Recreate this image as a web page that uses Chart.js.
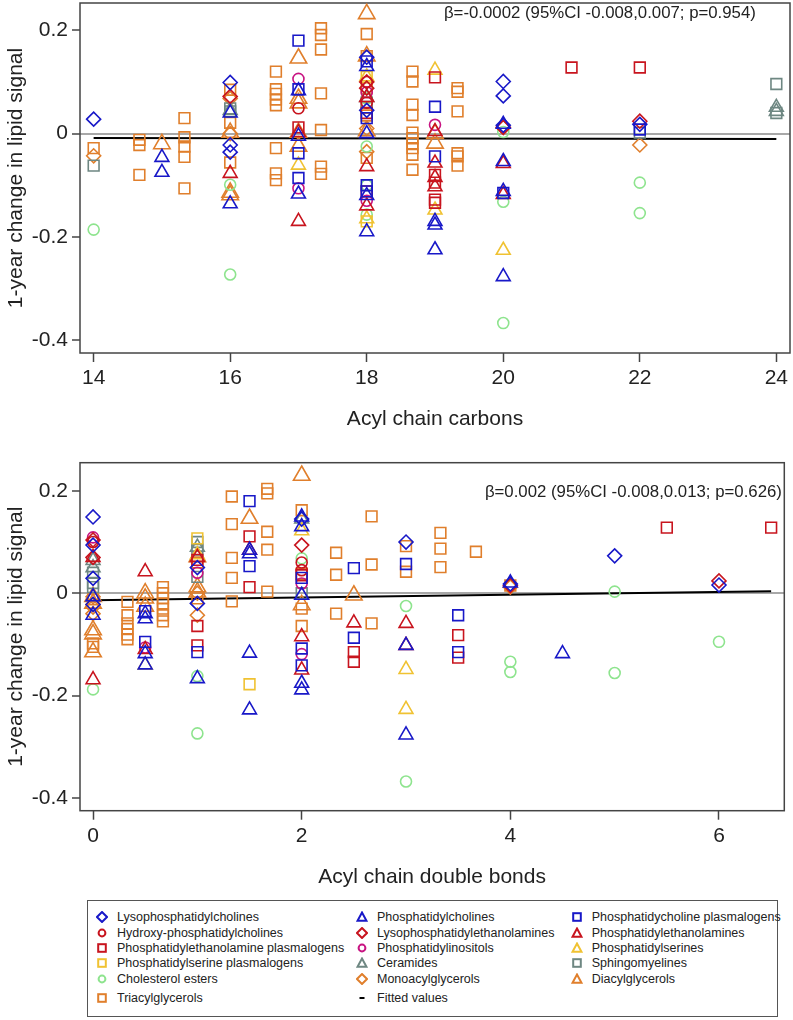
<!DOCTYPE html>
<html>
<head>
<meta charset="utf-8">
<script src="https://cdn.jsdelivr.net/npm/chart.js@4.4.1/dist/chart.umd.min.js"></script>
<style>
  body { margin: 0; background: #fff; font-family: "Liberation Sans", Arial, sans-serif; }
  #wrap { position: relative; width: 793px; height: 1020px; }
  canvas { position: absolute; left: 0; }
  #legend { position: absolute; left: 87px; top: 900px; width: 691px; height: 117px;
            border: 1.5px solid #555; box-sizing: border-box; }
  #legend svg { position: absolute; }
  #legend span { position: absolute; font-size: 12.5px; color: #222; white-space: nowrap; line-height: 16px; }
</style>
</head>
<body>
<div id="wrap">
  <canvas id="carbonsChart" width="793" height="440" style="top:0"></canvas>
  <canvas id="bondsChart" width="793" height="455" style="top:440px"></canvas>
  <div id="legend"></div>
</div>
<script>
// ========================================
// Lipid change vs acyl chain structure
// ========================================

// ---- axis ticks ----
const yTicks = [-0.4, -0.2, 0, 0.2];
const carbonTicks = [14, 16, 18, 20, 22, 24];
const bondTicks = [0, 2, 4, 6];

// ---- top chart: [acyl chain carbons, 1-year change] ----
const lpcC = [[14,0.028],[16,0.099],[16,-0.022],[16,-0.036],[18,0.148],[18,0.045],[20,0.101],[20,0.073],[20,0.016],[22,0.018]];
const pcC = [[15,-0.046],[15,-0.075],[16,0.04],[16,-0.136],[17,0.083],[17,-0.005],[17,-0.117],[18,0.13],[18,0],[18,-0.12],[18,-0.19],[19,-0.17],[19,-0.177],[19,-0.225],[20,0.018],[20,-0.054],[20,-0.112],[20,-0.277]];
const pcpC = [[17,0.18],[17,0.086],[17,-0.038],[17,-0.086],[18,0.14],[18,0.03],[18,-0.1],[18,-0.112],[19,0.052],[19,-0.044],[20,-0.115],[22,0.008]];
const hpcC = [[17,0.049],[18,0.1],[18,0.06]];
const lpeC = [[16,0.072],[18,0.1],[18,0.088],[20,0.012],[22,0.024]];
const peC = [[16,-0.077],[17,0.002],[17,-0.17],[18,0.07],[18,-0.064],[18,-0.14],[19,0.004],[19,-0.057],[19,-0.085],[19,-0.103],[20,-0.058],[20,-0.118]];
const pepC = [[17,0.012],[18,0.04],[18,-0.112],[19,0.109],[19,-0.08],[19,-0.095],[19,-0.128],[19,-0.134],[21,0.128],[22,0.128]];
const piC = [[17,0.106],[17,-0.106],[18,0.08],[18,-0.13],[19,0.017]];
const psC = [[17,-0.061],[18,0.11],[18,-0.165],[19,0.123],[19,-0.148],[20,-0.226]];
const pspC = [[18,0.11],[18,-0.17]];
const cerC = [[16,0.045],[18,0.07],[24,0.051],[24,0.043]];
const smC = [[14,-0.062],[16,0.049],[16,0.043],[18,0.06],[22,0.002],[24,0.096],[24,0.04]];
const ceC = [[14,-0.186],[16,-0.099],[16,-0.273],[18,0.068],[18,-0.025],[18,-0.1],[18,-0.157],[20,0.003],[20,-0.132],[20,-0.367],[22,-0.095],[22,-0.154]];
const magC = [[14,-0.043],[16,0.068],[16,0],[18,-0.035],[18,0.01],[20,0.012],[22,-0.022]];
const dagC = [[15,-0.02],[16,0.002],[16,-0.114],[16,-0.119],[17,0.146],[17,0.068],[17,0.059],[17,0.002],[17,-0.025],[18,0.232],[18,0.15],[18,0.005],[19,0],[19,-0.019]];
const tagC = [[14,-0.028],[14.67,-0.012],[14.67,-0.022],[14.67,-0.08],[15.33,0.03],[15.33,-0.007],[15.33,-0.025],[15.33,-0.045],[15.33,-0.106],
  [16,0.085],[16,0.021],[16,-0.056],[16.67,0.12],[16.67,0.086],[16.67,0.077],[16.67,0.066],[16.67,0.055],[16.67,-0.028],[16.67,-0.077],[16.67,-0.09],
  [17.33,0.204],[17.33,0.191],[17.33,0.163],[17.33,0.078],[17.33,0.007],[17.33,-0.064],[17.33,-0.078],[18,0.193],[18,0.15],[18,0.088],[18,0.05],[18,0.035],[18,-0.047],
  [18.67,0.12],[18.67,0.101],[18.67,0.056],[18.67,0.036],[18.67,0.002],[18.67,-0.009],[18.67,-0.019],[18.67,-0.028],[18.67,-0.041],[18.67,-0.07],
  [19.33,0.088],[19.33,0.081],[19.33,0.043],[19.33,-0.038],[19.33,-0.044],[19.33,-0.062]];
const fitC = [[14,-0.0083],[24,-0.0105]];

// ---- bottom chart: [acyl chain double bonds, 1-year change] ----
const lpcD = [[0,0.149],[0,0.094],[0,0.029],[0,-0.022],[1,0.05],[1,-0.02],[2,0.145],[3,0.1],[4,0.018],[5,0.073],[6,0.016]];
const pcD = [[0,-0.007],[0,-0.043],[0.5,-0.04],[0.5,-0.05],[0.5,-0.118],[0.5,-0.14],[1,-0.167],[1.5,0.084],[1.5,0.077],[1.5,-0.117],[1.5,-0.228],[2,0.149],[2,0.13],[2,-0.004],[2,-0.176],[2,-0.189],[3,-0.102],[3,-0.277],[4,0.02],[4.5,-0.118]];
const pcpD = [[0.5,-0.035],[0.5,-0.095],[1,-0.115],[1.5,0.18],[1.5,0.053],[2,0.03],[2,-0.108],[2,-0.141],[2.5,0.049],[2.5,-0.087],[3,0.057],[3.5,-0.043],[3.5,-0.115]];
const hpcD = [[0,0.1],[2,0.06],[2,0.045]];
const lpeD = [[0,0.104],[0,0.07],[2,0.094],[4,0.015],[6,0.024]];
const peD = [[0,0.07],[0,-0.169],[0.5,0.042],[0.5,-0.11],[1,0.07],[1.5,0.084],[2,-0.085],[2,-0.15],[2.5,-0.058],[3,-0.059],[3,-0.102]];
const pepD = [[1,0.065],[1,-0.064],[1,-0.102],[1.5,0.111],[1.5,0.012],[2,0.035],[2.5,-0.115],[2.5,-0.134],[3.5,-0.082],[3.5,-0.126],[5.5,0.128],[6.5,0.128]];
const piD = [[0,0.109],[0.5,-0.106],[1,0.04],[2,0.019],[2,-0.119]];
const psD = [[0.5,-0.14],[1,0.075],[2,0.122],[3,-0.149],[3,-0.227]];
const pspD = [[1,0.107],[1.5,-0.178]];
const cerD = [[0,0.064],[0,0.05],[1,0.09],[2,0.145]];
const smD = [[0,0.04],[0,0.02],[0,0.012],[1,0.1],[1,0.085],[1,0.032],[2,0]];
const ceD = [[0,-0.188],[1,-0.162],[1,-0.274],[2,0.068],[3,-0.025],[3,-0.368],[4,-0.134],[4,-0.154],[5,0.003],[5,-0.156],[6,-0.095]];
const magD = [[0,-0.007],[0,-0.022],[0,-0.027],[0,-0.04],[1,-0.043],[1,0],[4,0.012]];
const dagD = [[0,-0.007],[0,-0.02],[0,-0.072],[0,-0.08],[0,-0.115],[0.5,0],[0.5,-0.01],[0.5,-0.026],[1,0.071],[1,0.012],[1,0.002],[1.5,0.146],[2,0.23],[2,-0.023],[2.5,-0.004]];
const tagD = [[0,-0.012],[0,-0.098],[0,-0.105],[0.33,-0.017],[0.33,-0.043],[0.33,-0.059],[0.33,-0.07],[0.33,-0.081],[0.33,-0.09],
  [0.67,0.012],[0.67,0],[0.67,-0.01],[0.67,-0.02],[0.67,-0.03],[0.67,-0.043],[0.67,-0.055],[1,0.06],[1,-0.01],
  [1.33,0.189],[1.33,0.135],[1.33,0.069],[1.33,0.03],[1.33,-0.016],[1.67,0.204],[1.67,0.195],[1.67,0.12],[1.67,0.085],[1.67,0.003],
  [2,0.162],[2,0.038],[2,-0.03],[2,-0.064],[2.33,0.079],[2.33,0.036],[2.33,-0.04],[2.67,0.15],[2.67,0.056],[2.67,-0.059],
  [3,0.092],[3,0.042],[3.33,0.118],[3.33,0.087],[3.33,0.051],[3.67,0.081],[4,0.015]];
const fitD = [[0,-0.0137],[6.5,0.0039]];

// ---- regression notes ----
const noteC = 'β=-0.0002 (95%CI -0.008,0.007; p=0.954)';
const noteD = 'β=0.002 (95%CI -0.008,0.013; p=0.626)';

// ---- colours ----
const BLUE = '#1818c8', RED = '#c8141e', MAGENTA = '#c81482', YELLOW = '#f0c232',
      GRAY = '#6e8782', GREEN = '#8ee48e', ORANGE = '#e07f2c';

// series in Stata plot order (legend reads row-wise, 3 columns)
const series = [
  { label: 'Lysophosphatidylcholines', c: lpcC, d: lpcD, color: BLUE, shape: 'rectRot', r: 7 },
  { label: 'Phosphatidylcholines', c: pcC, d: pcD, color: BLUE, shape: 'triangle', r: 8 },
  { label: 'Phosphatidycholine plasmalogens', c: pcpC, d: pcpD, color: BLUE, shape: 'rect', r: 7.6 },
  { label: 'Hydroxy-phosphatidylcholines', c: hpcC, d: hpcD, color: RED, shape: 'circle', r: 5.5 },
  { label: 'Lysophosphatidylethanolamines', c: lpeC, d: lpeD, color: RED, shape: 'rectRot', r: 7 },
  { label: 'Phosphatidylethanolamines', c: peC, d: peD, color: RED, shape: 'triangle', r: 8 },
  { label: 'Phosphatidylethanolamine plasmalogens', c: pepC, d: pepD, color: RED, shape: 'rect', r: 7.6 },
  { label: 'Phosphatidylinositols', c: piC, d: piD, color: MAGENTA, shape: 'circle', r: 5.5 },
  { label: 'Phosphatidylserines', c: psC, d: psD, color: YELLOW, shape: 'triangle', r: 8 },
  { label: 'Phosphatidylserine plasmalogens', c: pspC, d: pspD, color: YELLOW, shape: 'rect', r: 7.6 },
  { label: 'Ceramides', c: cerC, d: cerD, color: GRAY, shape: 'triangle', r: 8 },
  { label: 'Sphingomyelines', c: smC, d: smD, color: GRAY, shape: 'rect', r: 7.6 },
  { label: 'Cholesterol esters', c: ceC, d: ceD, color: GREEN, shape: 'circle', r: 5.5 },
  { label: 'Monoacylglycerols', c: magC, d: magD, color: ORANGE, shape: 'rectRot', r: 7 },
  { label: 'Diacylglycerols', c: dagC, d: dagD, color: ORANGE, shape: 'triangle', r: 9.5 },
  { label: 'Triacylglycerols', c: tagC, d: tagD, color: ORANGE, shape: 'rect', r: 7.6 }
];

Chart.defaults.font.family = '"Liberation Sans", Arial, sans-serif';
Chart.defaults.color = '#222';

const toXY = arr => arr.map(p => ({ x: p[0], y: p[1] }));

// plot region box
const framePlugin = {
  id: 'frame',
  beforeDatasetsDraw(chart) {
    const { ctx, chartArea: a } = chart;
    ctx.save();
    ctx.strokeStyle = '#444';
    ctx.lineWidth = 1.5;
    ctx.strokeRect(a.left, a.top, a.right - a.left, a.bottom - a.top);
    ctx.restore();
  }
};

// beta / CI text inside the plot
const notePlugin = {
  id: 'note',
  afterDraw(chart, args, opts) {
    const { ctx, scales } = chart;
    ctx.save();
    ctx.font = '16.8px "Liberation Sans", Arial, sans-serif';
    ctx.fillStyle = '#222';
    ctx.textAlign = 'right';
    ctx.textBaseline = 'middle';
    ctx.fillText(opts.text, scales.x.getPixelForValue(opts.x), scales.y.getPixelForValue(opts.y));
    ctx.restore();
  }
};

function buildChart(id, key, fit, cfg) {
  const datasets = series.map(s => ({
    type: 'scatter',
    label: s.label,
    data: toXY(s[key]),
    pointStyle: s.shape,
    pointRadius: s.r,
    pointHoverRadius: s.r,
    pointBorderColor: s.color,
    pointBackgroundColor: 'rgba(0,0,0,0)',
    pointBorderWidth: 1.6
  }));
  datasets.push({
    type: 'line',
    label: 'Fitted values',
    data: toXY(fit),
    borderColor: '#000',
    borderWidth: 2,
    pointRadius: 0,
    fill: false
  });

  return new Chart(document.getElementById(id), {
    type: 'scatter',
    data: { datasets },
    plugins: [framePlugin, notePlugin],
    options: {
      responsive: false,
      animation: false,
      devicePixelRatio: 1,
      layout: { padding: cfg.padding, autoPadding: false },
      plugins: {
        legend: { display: false },
        tooltip: { enabled: false },
        note: cfg.note
      },
      scales: {
        x: {
          type: 'linear',
          min: cfg.xMin,
          max: cfg.xMax,
          afterBuildTicks: s => { s.ticks = cfg.xTicks.map(v => ({ value: v })); },
          afterFit: s => { s.height = cfg.xHeight; s.paddingLeft = 0; s.paddingRight = 0; },
          ticks: { font: { size: 21 }, padding: 4, maxRotation: 0, callback: v => String(v) },
          grid: { drawOnChartArea: false, drawTicks: true, tickLength: 9, tickColor: '#444', tickWidth: 1.5 },
          border: { display: false },
          title: { display: true, text: cfg.xTitle, font: { size: 21 }, padding: { top: 4, bottom: 4 } }
        },
        y: {
          type: 'linear',
          min: cfg.yMin,
          max: cfg.yMax,
          afterBuildTicks: s => { s.ticks = yTicks.map(v => ({ value: v })); },
          afterFit: s => { s.width = 80; s.paddingTop = 0; s.paddingBottom = 0; },
          ticks: { font: { size: 21 }, padding: 4, callback: v => (v === 0 ? '0' : v.toFixed(1)) },
          grid: {
            drawOnChartArea: true,
            drawTicks: true,
            tickLength: 8,
            color: c => (c.tick && c.tick.value === 0 ? '#a8a8a8' : 'rgba(0,0,0,0)'),
            lineWidth: 2,
            tickColor: '#444',
            tickWidth: 1.5
          },
          border: { display: false },
          title: { display: true, text: '1-year change in lipid signal', font: { size: 21 }, padding: { top: 4, bottom: 4 } }
        }
      }
    }
  });
}

buildChart('carbonsChart', 'c', fitC, {
  xMin: 13.8, xMax: 24.2, yMin: -0.425, yMax: 0.253,
  xTicks: carbonTicks, xTitle: 'Acyl chain carbons', xHeight: 82.6,
  padding: { top: 3, right: 3, left: 0, bottom: 4.4 },
  note: { text: noteC, x: 23.7, y: 0.232 }
});

buildChart('bondsChart', 'd', fitD, {
  xMin: -0.125, xMax: 6.626, yMin: -0.425, yMax: 0.255,
  xTicks: bondTicks, xTitle: 'Acyl chain double bonds', xHeight: 82.9,
  padding: { top: 22.7, right: 8.7, left: 0, bottom: 1.4 },
  note: { text: noteD, x: 6.603, y: 0.198 }
});

// ---- legend (3 columns, filled row by row) ----
const legendCols = [{ m: 13.7, t: 29 }, { m: 273.7, t: 289 }, { m: 489, t: 503.7 }];
const legendRows = [15.7, 31.7, 47.3, 62.3, 78.3, 97.3];

function markerSvg(shape, color) {
  const a = 'fill="none" stroke="' + color + '" stroke-width="2"';
  let body;
  if (shape === 'rectRot') body = '<polygon points="6,1 11,6 6,11 1,6" ' + a + '/>';
  else if (shape === 'triangle') body = '<polygon points="6,1.5 10.5,9.8 1.5,9.8" ' + a + '/>';
  else if (shape === 'rect') body = '<rect x="2.2" y="2.2" width="7.6" height="7.6" ' + a + '/>';
  else if (shape === 'circle') body = '<circle cx="6" cy="6" r="3.4" ' + a + '/>';
  else body = '<rect x="3.5" y="5" width="5" height="2" fill="#000"/>';
  return '<svg width="12" height="12" viewBox="0 0 12 12">' + body + '</svg>';
}

const legendEl = document.getElementById('legend');
const legendItems = series.map(s => ({ label: s.label, shape: s.shape, color: s.color }))
  .concat([{ label: 'Fitted values', shape: 'line', color: '#000' }]);

legendItems.forEach((item, i) => {
  const col = legendCols[i % 3];
  const rowY = legendRows[Math.floor(i / 3)];
  const holder = document.createElement('div');
  holder.innerHTML = markerSvg(item.shape, item.color);
  const svg = holder.firstChild;
  svg.style.left = (col.m - 6) + 'px';
  svg.style.top = (rowY - 6) + 'px';
  legendEl.appendChild(svg);

  const span = document.createElement('span');
  span.textContent = item.label;
  span.style.left = col.t + 'px';
  span.style.top = (rowY - 8) + 'px';
  legendEl.appendChild(span);
});
</script>
</body>
</html>
